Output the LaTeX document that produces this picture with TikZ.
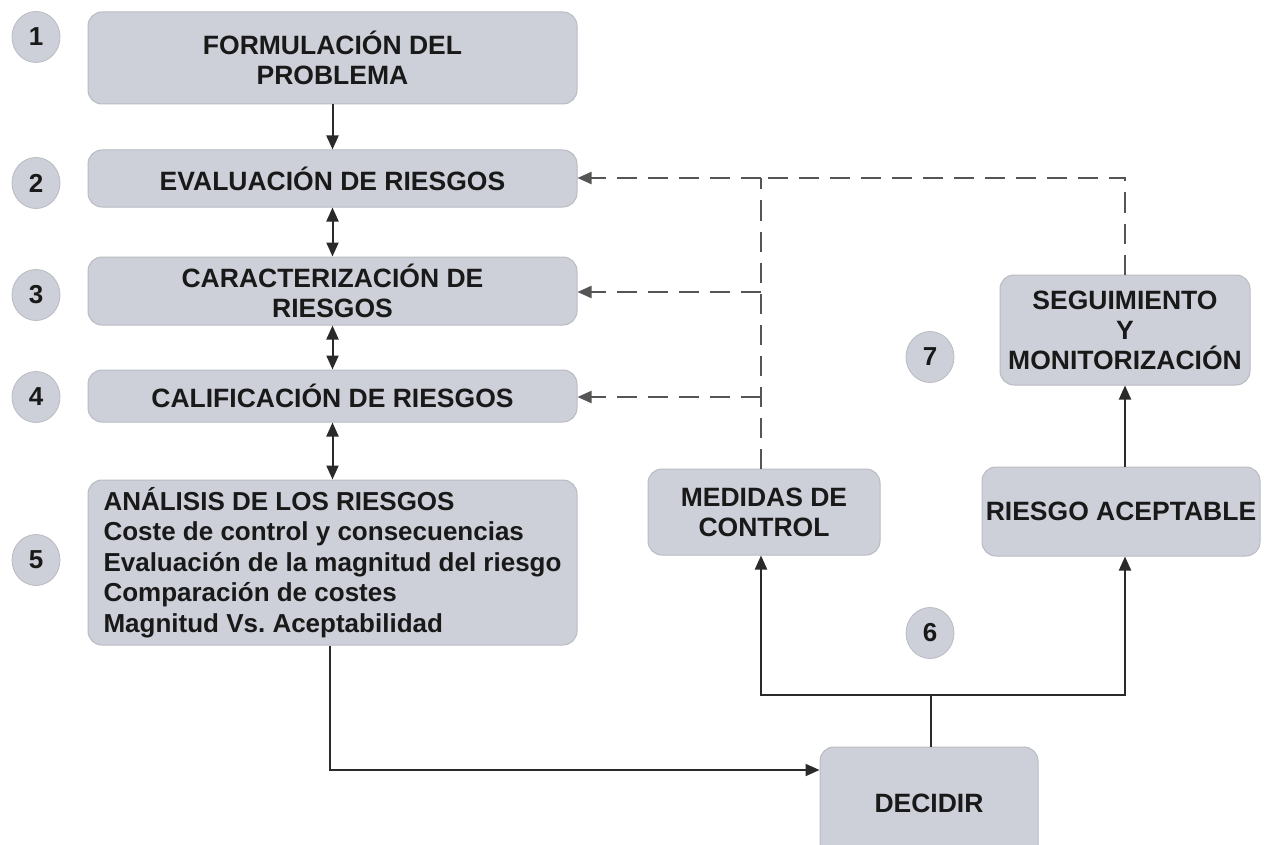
\documentclass[tikz,border=0pt]{standalone}
\usepackage{fontspec}
\setmainfont{Liberation Sans}
\usetikzlibrary{arrows.meta,shapes.geometric}
\definecolor{boxfill}{HTML}{CDD0D8}
\definecolor{boxline}{HTML}{B8BBC2}
\definecolor{lineclr}{HTML}{2A2A2A}
\definecolor{dashclr}{HTML}{555555}
\frenchspacing
\tikzset{
  pbox/.style={draw=boxline, line width=1pt, fill=boxfill, rounded corners=14pt, inner sep=0pt, font=\fontsize{26.5}{30}\selectfont\bfseries, text=black!90, align=center},
  numc/.style={ellipse, draw=boxline, line width=0.8pt, fill=boxfill, minimum width=48pt, minimum height=51pt, inner sep=0pt, font=\fontsize{26}{28}\selectfont\bfseries, text=black!90},
  tip/.tip={Triangle[length=14pt,width=12pt]},
  conn/.style={draw=lineclr, line width=2pt, -tip},
  dconn/.style={draw=dashclr, line width=2.2pt, dash pattern=on 20pt off 11pt},
  tipl/.style={-tip}
}
\begin{document}
\begin{tikzpicture}[x=1pt,y=-1pt]
\useasboundingbox (0,0) rectangle (1268,845);
% boxes
\node[pbox, minimum width=489pt, minimum height=92pt] (b1) at (332.5,58) {FORMULACIÓN DEL\\PROBLEMA};
\node[pbox, minimum width=489pt, minimum height=57pt] (b2) at (332.5,178.5) {EVALUACIÓN DE RIESGOS};
\node[pbox, minimum width=489pt, minimum height=68pt] (b3) at (332.5,291) {CARACTERIZACIÓN DE\\RIESGOS};
\node[pbox, minimum width=489pt, minimum height=52pt] (b4) at (332.5,396) {CALIFICACIÓN DE RIESGOS};
\node[pbox, minimum width=489pt, minimum height=165pt, align=left, font=\fontsize{26}{30.5}\selectfont\bfseries] (b5) at (332.5,562.5) {ANÁLISIS DE LOS RIESGOS\\Coste de control y consecuencias\\Evaluación de la magnitud del riesgo\\Comparación de costes\\Magnitud Vs. Aceptabilidad};
\node[pbox, minimum width=232pt, minimum height=86pt] (med) at (764,512) {MEDIDAS DE\\CONTROL};
\node[pbox, minimum width=278pt, minimum height=89pt] (rac) at (1121,511.5) {RIESGO ACEPTABLE};
\node[pbox, minimum width=250pt, minimum height=110pt] (seg) at (1125,330) {SEGUIMIENTO\\Y\\MONITORIZACIÓN};
\node[pbox, minimum width=218pt, minimum height=112pt] (dec) at (929,803) {DECIDIR};
% numbers
\node[numc] (n1) at (36,37) {1};
\node[numc] (n2) at (36,183) {2};
\node[numc] (n3) at (36,295) {3};
\node[numc] (n4) at (36,397) {4};
\node[numc] (n5) at (36,560) {5};
\node[numc] (n6) at (930,633) {6};
\node[numc] (n7) at (930,357) {7};
% coordinates
\coordinate (j) at (931,695);
\coordinate (jl) at (761,695);
\coordinate (jr) at (1125,695);
\coordinate (bend) at (330,770);
\coordinate (dtop) at (761,178);
\coordinate (dr) at (1125,178);
\coordinate (d3) at (761,292);
\coordinate (d4) at (761,397);
% solid connectors
\draw[conn] (b1.south -| b2.north) -- (b2.north);
\draw[conn, tip-tip] (b2.south) -- (b3.north);
\draw[conn, tip-tip] (b3.south) -- (b4.north);
\draw[conn, tip-tip] (b4.south) -- (b5.north -| b4.south);
\draw[conn] (b5.south -| bend) -- (bend) -- (dec.west |- bend);
\draw[draw=lineclr, line width=2pt] (dec.north -| j) -- (j);
\draw[conn] (jr) -- (jl) -- (med.south -| jl);
\draw[conn] (jl) -- (jr) -- (rac.south -| jr);
\draw[conn] (rac.north -| jr) -- (seg.south -| jr);
% dashed connectors
\draw[dconn] (seg.north -| dr) -- (dr) -- (dtop);
\draw[dconn] (med.north -| dtop) -- (dtop);
\draw[dconn, tipl] (dtop) -- (b2.east |- dtop);
\draw[dconn, tipl] (d3) -- (b3.east |- d3);
\draw[dconn, tipl] (d4) -- (b4.east |- d4);
\end{tikzpicture}
\end{document}
